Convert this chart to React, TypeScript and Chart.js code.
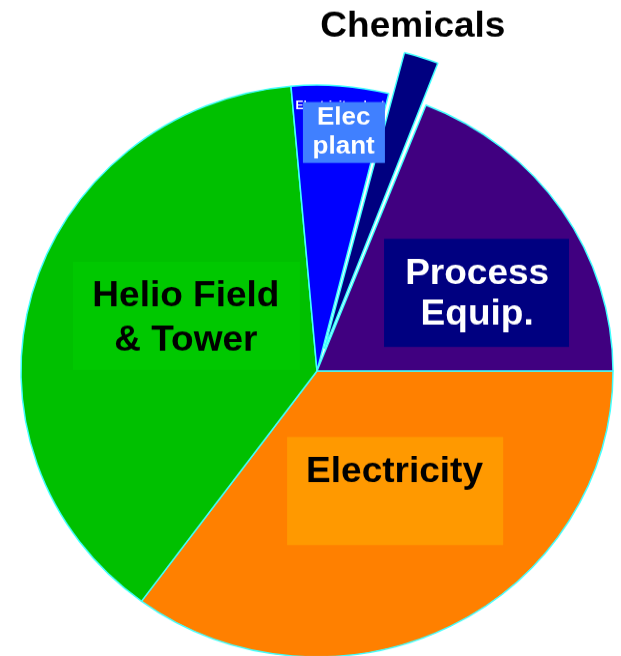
import React, { useEffect, useRef } from 'react';
import { Chart, registerables } from 'chart.js';

Chart.register(...registerables);

// ---- data ----
const categories = ['Electricity', 'Helio Field & Tower', 'Elec plant', 'Chemicals', 'Process Equip.'];
const shares = [35.1, 38.5, 5.3, 2.1, 19.0];
const labelLines = [['Electricity'], ['Helio Field', '& Tower'], ['Elec', 'plant'], ['Chemicals'], ['Process', 'Equip.']];

// ---- style ----
const sliceColors = ['#FF8000', '#00C000', '#0000FF', '#000080', '#400080'];
const sliceOffsets = [0, 0, 0, 96, 0];
// label boxes, in units of the pie radius relative to the pie centre
const labelStyles = [
  { box: { cx: 0.264, cy: 0.42, w: 0.73, h: 0.378 }, tx: 0.262, ly: [0.343], size: 37, color: '#000000', fill: '#FF9900' },
  { box: { cx: -0.441, cy: -0.193, w: 0.767, h: 0.378 }, tx: -0.443, ly: [-0.27, -0.115], size: 37, color: '#000000', fill: '#00C800' },
  { box: { cx: 0.091, cy: -0.834, w: 0.277, h: 0.213 }, tx: 0.09, ly: [-0.892, -0.791], size: 26, color: '#FFFFFF', fill: '#4080FF' },
  { box: null, tx: 0.324, ly: [-1.213], size: 37, color: '#000000', fill: null },
  { box: { cx: 0.539, cy: -0.273, w: 0.625, h: 0.378 }, tx: 0.541, ly: [-0.348, -0.208], size: 37, color: '#FFFFFF', fill: '#000080' },
];

const FONT = '"Liberation Sans", Arial, Helvetica, sans-serif';

const labelPlugin = {
  id: 'sliceLabels',
  afterDatasetsDraw(chart: any) {
    const arc = chart.getDatasetMeta(0).data[0];
    if (!arc) return;
    const { x: cx, y: cy, outerRadius: r } = arc.getProps(['x', 'y', 'outerRadius'], true);
    const ctx = chart.ctx as CanvasRenderingContext2D;
    ctx.save();
    ctx.textAlign = 'center';
    ctx.textBaseline = 'alphabetic';
    // tiny partially-hidden caption above the Elec plant box
    ctx.fillStyle = '#FFFFFF';
    ctx.font = `bold 12px ${FONT}`;
    ctx.fillText('Electricity plant', cx + 0.078 * r, cy - 0.956 * r + 12);

    labelStyles.forEach((st, i) => {
      if (st.box) {
        ctx.fillStyle = st.fill as string;
        const bw = st.box.w * r;
        const bh = st.box.h * r;
        ctx.fillRect(cx + st.box.cx * r - bw / 2, cy + st.box.cy * r - bh / 2, bw, bh);
      }
      ctx.fillStyle = st.color;
      ctx.font = `bold ${st.size}px ${FONT}`;
      labelLines[i].forEach((line, j) => {
        ctx.fillText(line, cx + st.tx * r, cy + st.ly[j] * r + 0.358 * st.size);
      });
    });
    ctx.restore();
  },
};

export default function App() {
  const ref = useRef<HTMLCanvasElement | null>(null);

  useEffect(() => {
    if (!ref.current) return;
    const chart = new Chart(ref.current, {
      type: 'pie',
      data: {
        labels: categories,
        datasets: [
          {
            data: shares,
            backgroundColor: sliceColors,
            borderColor: '#40FFFF',
            borderWidth: 1.5,
            offset: sliceOffsets,
            clip: false,
          } as any,
        ],
      },
      options: {
        responsive: false,
        maintainAspectRatio: false,
        devicePixelRatio: 1,
        animation: false,
        rotation: 90,
        radius: 296,
        layout: { padding: { left: 13, right: 0, top: 88, bottom: 0 } },
        plugins: {
          legend: { display: false },
          tooltip: { enabled: false },
        },
      } as any,
      plugins: [labelPlugin],
    });
    return () => chart.destroy();
  }, []);

  return (
    <div
      style={{
        position: 'absolute',
        left: 0,
        top: 0,
        width: 621,
        height: 656,
        overflow: 'hidden',
        background: '#FFFFFF',
      }}
    >
      <div style={{ width: 621, height: 680, transform: 'scaleY(0.966)', transformOrigin: '0 0' }}>
        <canvas ref={ref} width={621} height={680} style={{ display: 'block' }} />
      </div>
    </div>
  );
}
